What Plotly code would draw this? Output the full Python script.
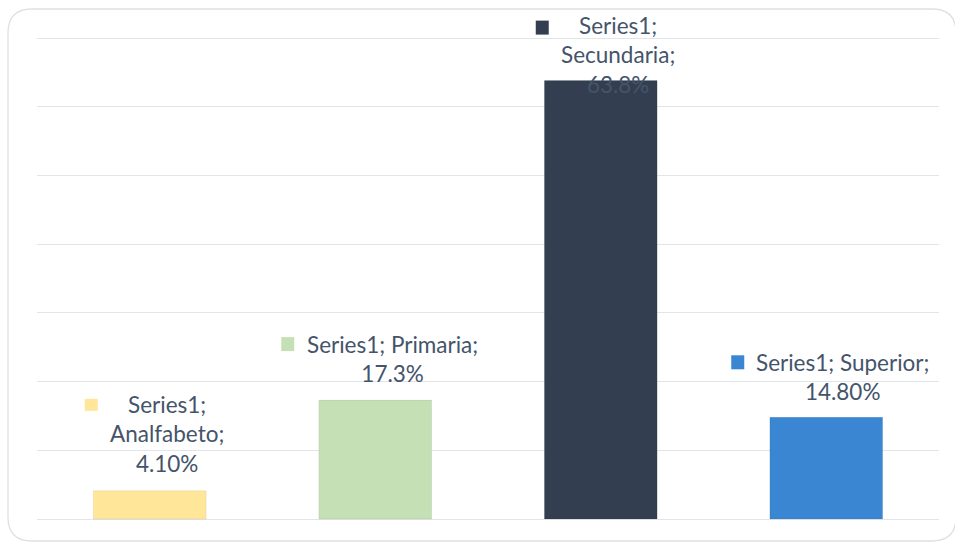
import plotly.graph_objects as go

# ---- data ----
categories = ["Analfabeto", "Primaria", "Secundaria", "Superior"]
values = [4.1, 17.3, 63.8, 14.8]
value_labels = ["4.10%", "17.3%", "63.8%", "14.80%"]
series_name = "Series1"
label_lines = [
    ["Series1;", "Analfabeto;", "4.10%"],
    ["Series1; Primaria;", "17.3%"],
    ["Series1;", "Secundaria;", "63.8%"],
    ["Series1; Superior;", "14.80%"],
]
y_ticks = [0, 10, 20, 30, 40, 50, 60, 70]

# ---- styles ----
colors = ["#FFE699", "#C5E0B4", "#333F50", "#3A86D2"]
text_color = "#44546A"
font_family = "Lato"
font_size = 22.5
# label pixel offsets (x shift of text centre, y shift of box bottom relative to bar top)
label_xshift = [17, 17, 17, 16]
label_yshift = [12, 11, -19, 10]
# key square pixel offsets relative to (bar centre, bar top)
key_x = [(-65, -52), (-94, -81), (-65, -52), (-95, -82)]
key_y = [(80, 92), (49, 63), (46, 60), (48, 62)]

W, H = 955, 542
L, R = 37, 16
plot_top_px, plot_base_px = 38, 519   # pixel rows of 70% and 0%
px_per_unit = (plot_base_px - plot_top_px) / 70.0

fig = go.Figure()
fig.add_trace(go.Bar(
    x=categories, y=values, name=series_name,
    marker=dict(color=colors, line=dict(color="rgba(0,0,0,0.06)", width=1)),
    width=0.5, hoverinfo="x+y",
))

for i, cat in enumerate(categories):
    fig.add_annotation(
        x=cat, y=values[i], xref="x", yref="y",
        text="<br>".join(label_lines[i]), showarrow=False,
        xanchor="center", yanchor="bottom",
        xshift=label_xshift[i], yshift=label_yshift[i],
        font=dict(family=font_family, size=font_size, color=text_color),
    )
    fig.add_shape(
        type="rect", xref="x", yref="y",
        xsizemode="pixel", ysizemode="pixel",
        xanchor=i, yanchor=values[i],
        x0=key_x[i][0], x1=key_x[i][1], y0=key_y[i][0], y1=key_y[i][1],
        fillcolor=colors[i], line=dict(width=0),
    )

# y range covering the whole figure height so nothing is clipped
y_lo = -(H - plot_base_px) / px_per_unit
y_hi = 70 + plot_top_px / px_per_unit

# rounded outer frame in data coords (y) / paper (x)
pw = W - L - R
def px(xp): return (xp - L) / pw
def py(yp): return (plot_base_px - yp) / px_per_unit
x0, y0, x1, y1, r = 8, 9, 956, 541, 24
path = (f"M {px(x0+r)},{py(y0)} L {px(x1-r)},{py(y0)} Q {px(x1)},{py(y0)} {px(x1)},{py(y0+r)} "
        f"L {px(x1)},{py(y1-r)} Q {px(x1)},{py(y1)} {px(x1-r)},{py(y1)} "
        f"L {px(x0+r)},{py(y1)} Q {px(x0)},{py(y1)} {px(x0)},{py(y1-r)} "
        f"L {px(x0)},{py(y0+r)} Q {px(x0)},{py(y0)} {px(x0+r)},{py(y0)} Z")
fig.add_shape(type="path", xref="paper", yref="y", path=path,
              line=dict(color="#DDE0E5", width=1.3), layer="below")

fig.update_layout(
    width=W, height=H,
    margin=dict(l=L, r=R, t=0, b=0),
    paper_bgcolor="white", plot_bgcolor="white",
    showlegend=False, bargap=0.5,
    xaxis=dict(showticklabels=False, showgrid=False, zeroline=False, showline=False,
               range=[-0.5, 3.5]),
    yaxis=dict(range=[y_lo, y_hi], tickvals=y_ticks, showticklabels=False,
               showgrid=True, gridcolor="#E1E4E8", gridwidth=1.3,
               zeroline=False, showline=False),
)

fig.write_html("out.html")
